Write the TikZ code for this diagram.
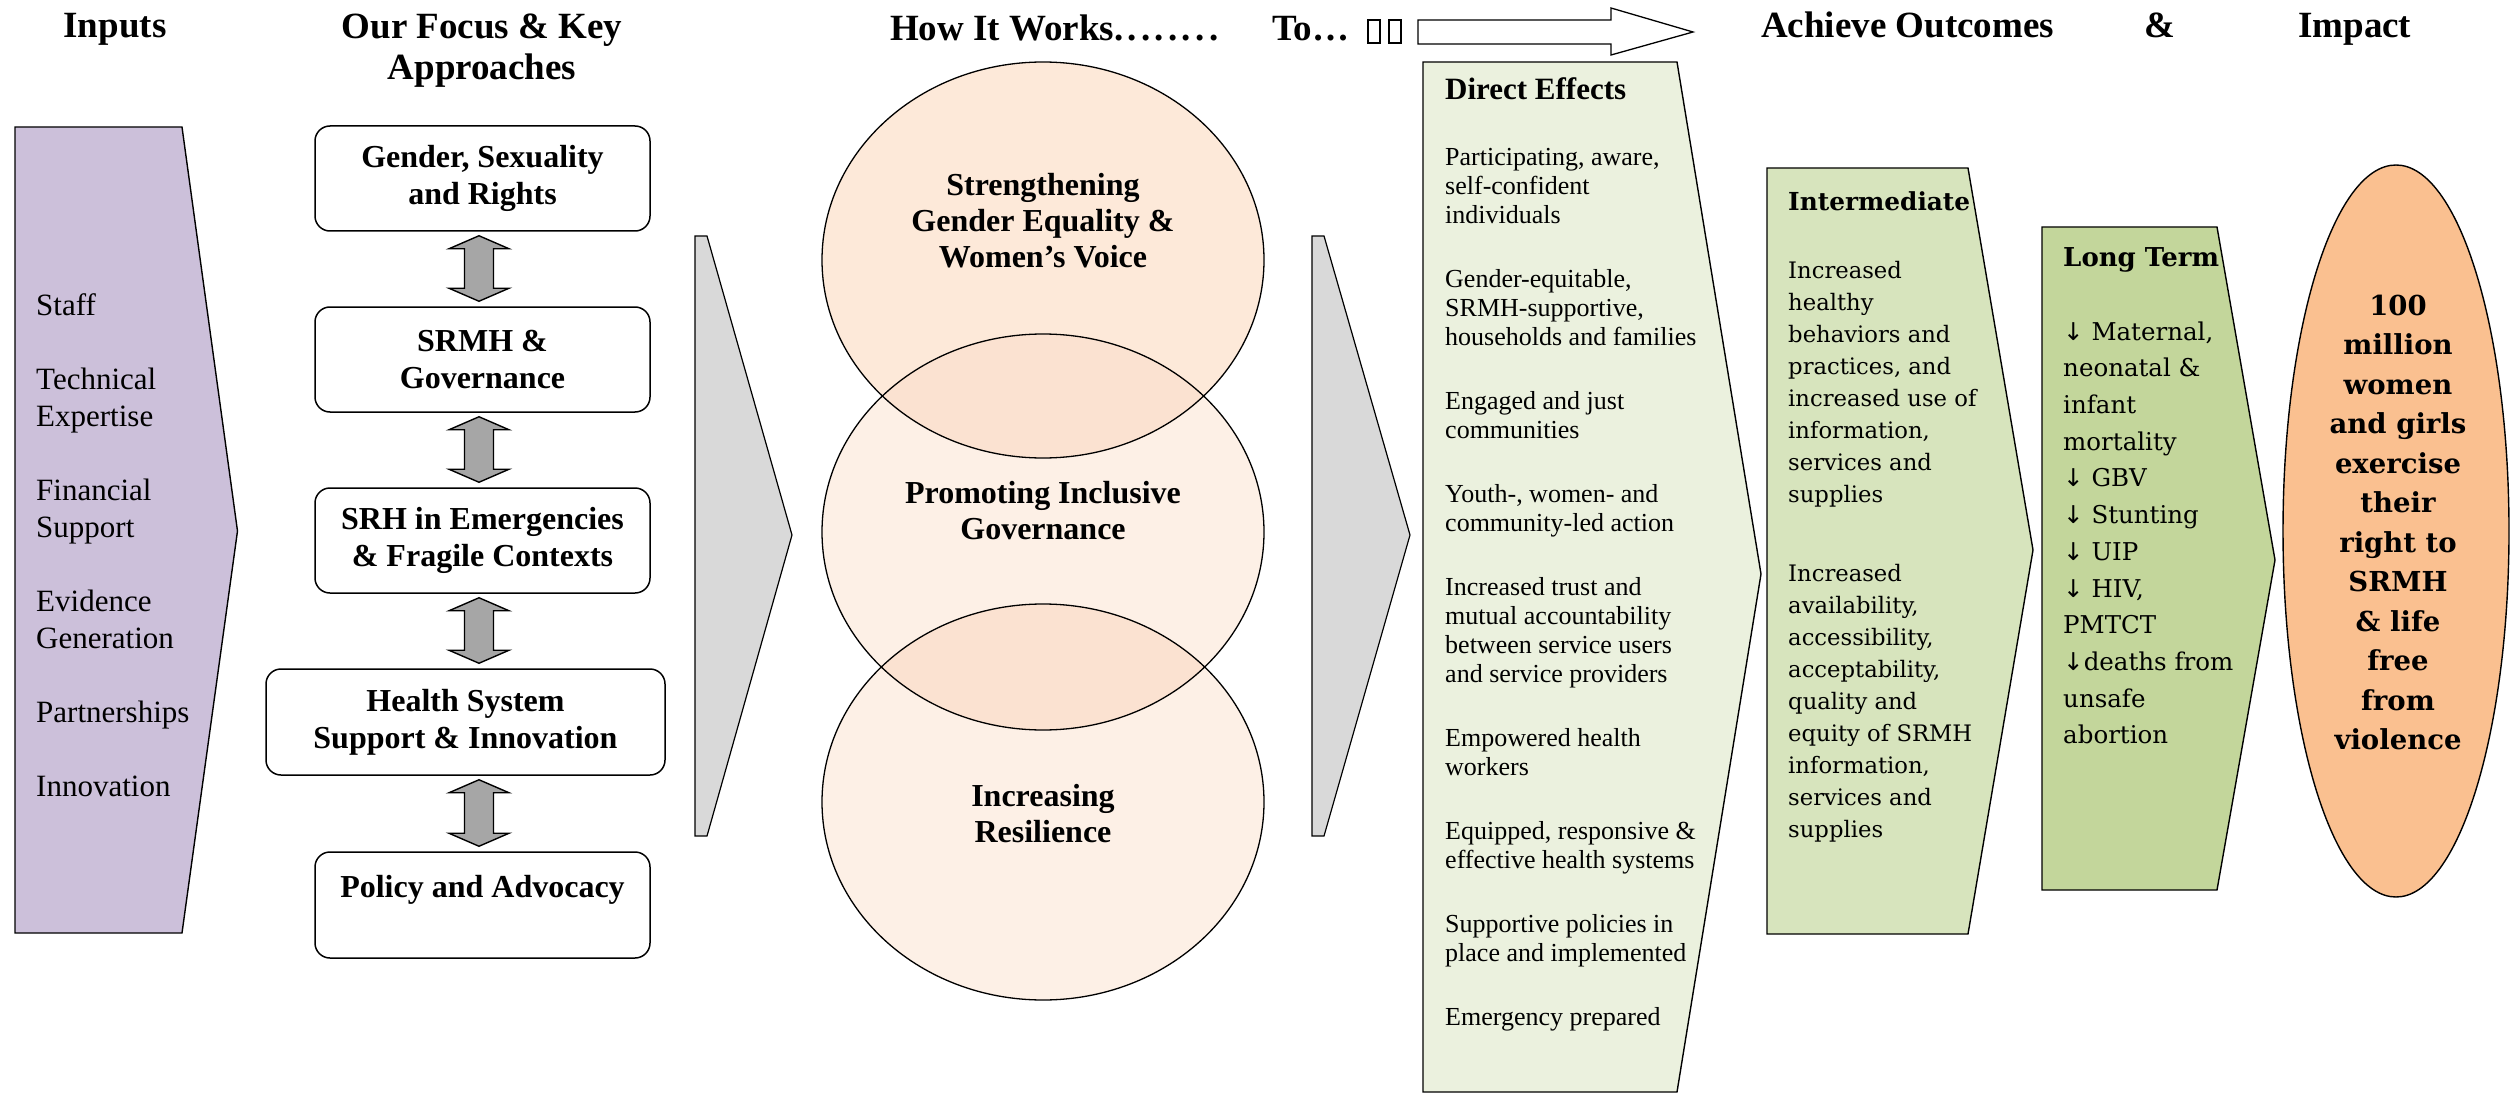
\documentclass[tikz,border=0pt]{standalone}
\usepackage{fontspec}
\setmainfont{Liberation Serif}
\newfontfamily\schfont{DejaVu Serif}
\newfontfamily\symfont{DejaVu Sans}
\usepackage{tikz}
\usetikzlibrary{calc}

\definecolor{inputpurple}{HTML}{CCC0DA}
\definecolor{chevgray}{HTML}{D9D9D9}
\definecolor{arrowgray}{HTML}{A6A6A6}
\definecolor{peachtop}{HTML}{FDE9D9}
\definecolor{peachmid}{HTML}{FDF0E6}
\definecolor{peachmix}{HTML}{FBE2D1}
\definecolor{greendirect}{HTML}{EBF1DE}
\definecolor{greeninter}{HTML}{D7E4BD}
\definecolor{greenlong}{HTML}{C3D69B}
\definecolor{impactorange}{HTML}{FAC090}

\newcommand{\dn}{{\symfont\char"2193}}
\newcommand{\dotrow}{.\kern4.3pt.\kern4.3pt.\kern4.3pt.\kern4.3pt.\kern4.3pt.\kern4.3pt.\kern4.3pt.}

% block arrow with two heads between box #1 and box #2, centred on x = #3
\newcommand{\updown}[3]{%
  \draw[dblarrow] let \p1=(#1.south), \p2=(#2.north) in
    ({#3pt},\y1-4pt) -- ({#3pt+30pt},\y1-17pt) -- ({#3pt+14.5pt},\y1-17pt)
    -- ({#3pt+14.5pt},\y2+18pt) -- ({#3pt+30pt},\y2+18pt) -- ({#3pt},\y2+5pt)
    -- ({#3pt-30pt},\y2+18pt) -- ({#3pt-14.5pt},\y2+18pt)
    -- ({#3pt-14.5pt},\y1-17pt) -- ({#3pt-30pt},\y1-17pt) -- cycle;}

\begin{document}
\begin{tikzpicture}[x=1pt,y=-1pt,
  panel/.style={draw=black,line width=1.4pt},
  dblarrow/.style={draw=black,fill=arrowgray,line width=1.4pt},
  keybox/.style={draw=black,rounded corners=15,line width=1.5pt,fill=white,
    align=center,inner sep=0pt,minimum width=335,minimum height=105,
    font=\bfseries\fontsize{32}{37}\selectfont},
  headtext/.style={inner sep=0pt,font=\bfseries\fontsize{37}{41}\selectfont},
  venntext/.style={inner sep=0pt,anchor=north,align=center,
    font=\bfseries\fontsize{32}{36}\selectfont},
  listtext/.style={inner sep=0pt,anchor=north west,align=left}]
\useasboundingbox (0,0) rectangle (2511,1094);

% headings
\node[headtext,anchor=base] (hinputs) at (115,38) {Inputs};
\node[headtext,anchor=north,align=center] (hfocus) at (482,9.3) {\strut Our Focus \& Key\\Approaches};
\node[headtext,anchor=base west] (hworks) at (890,41) {How It Works\dotrow};
\node[headtext,anchor=base west] (hto) at (1272,41) {To…};
\draw[line width=1.5pt] (1368,20) rectangle (1380,43);
\draw[line width=1.5pt] (1389,20) rectangle (1401,43);
\filldraw[fill=white,line width=1.3pt] (1418,20) -- (1611,20) -- (1611,8) -- (1693,32)
  -- (1611,55) -- (1611,44) -- (1418,44) -- cycle;
\node[headtext,anchor=base west] (hachieve) at (1761,38) {Achieve Outcomes};
\node[headtext,anchor=base] (hand) at (2160,38) {\&};
\node[headtext,anchor=base west] (himpact) at (2298,38) {Impact};

% inputs
\filldraw[panel,fill=inputpurple] (15,127) -- (182,127) -- (237.5,531) -- (182,933) -- (15,933) -- cycle;
\node[listtext,font=\fontsize{31}{37}\selectfont] (inputlist) at (36,289.1) {\strut Staff\\[37pt]
  Technical\\Expertise\\[37pt]
  Financial\\Support\\[37pt]
  Evidence\\Generation\\[37pt]
  Partnerships\\[37pt]
  Innovation};

% focus and key approaches
\node[keybox] (gsr) at (482.5,178.5) {Gender, Sexuality\\and Rights};
\node[keybox] (srmh) at (482.5,359.5) {SRMH \&\\Governance};
\node[keybox] (srh) at (482.5,540.5) {SRH in Emergencies\\\& Fragile Contexts};
\node[keybox,minimum width=399,minimum height=106] (hss) at (465.5,722) {Health System\\Support \& Innovation};
\node[keybox,minimum height=106] (policy) at (482.5,905) {Policy and Advocacy\\\mbox{}};
\updown{gsr}{srmh}{479}
\updown{srmh}{srh}{479}
\updown{srh}{hss}{479}
\updown{hss}{policy}{479}

% chevrons
\filldraw[panel,fill=chevgray,line width=1.2pt] (695,236) -- (707,236) -- (792,535) -- (707,836) -- (695,836) -- cycle;
\filldraw[panel,fill=chevgray,line width=1.2pt] (1312,236) -- (1324,236) -- (1410,535) -- (1324,836) -- (1312,836) -- cycle;

% how it works
\fill[peachmid] (1043,532) ellipse [x radius=221,y radius=198];
\fill[peachmid] (1043,802) ellipse [x radius=221,y radius=198];
\fill[peachtop] (1043,260) ellipse [x radius=221,y radius=198];
\begin{scope}
  \clip (1043,260) ellipse [x radius=221,y radius=198];
  \fill[peachmix] (1043,532) ellipse [x radius=221,y radius=198];
\end{scope}
\begin{scope}
  \clip (1043,802) ellipse [x radius=221,y radius=198];
  \fill[peachmix] (1043,532) ellipse [x radius=221,y radius=198];
\end{scope}
\draw[line width=1.3pt] (1043,260) ellipse [x radius=221,y radius=198];
\draw[line width=1.3pt] (1043,532) ellipse [x radius=221,y radius=198];
\draw[line width=1.3pt] (1043,802) ellipse [x radius=221,y radius=198];
\node[venntext] (voice) at (1043,169.8) {\strut Strengthening\\Gender Equality \&\\Women’s Voice};
\node[venntext] (govern) at (1043,477.8) {\strut Promoting Inclusive\\Governance};
\node[venntext] (resil) at (1043,780.8) {\strut Increasing\\Resilience};

% direct effects
\filldraw[panel,fill=greendirect] (1423,62) -- (1677,62) -- (1761,574) -- (1677,1092) -- (1423,1092) -- cycle;
\node[inner sep=0pt,anchor=base west,font=\bfseries\fontsize{31}{36}\selectfont] (directhead) at (1445,100) {Direct Effects};
\node[listtext,font=\fontsize{26}{29}\selectfont] (directlist) at (1445,144.7) {\strut Participating, aware,\\self-confident\\individuals\\[35pt]
  Gender-equitable,\\SRMH-supportive,\\households and families\\[35pt]
  Engaged and just\\communities\\[35pt]
  Youth-, women- and\\community-led action\\[35pt]
  Increased trust and\\mutual accountability\\between service users\\and service providers\\[35pt]
  Empowered health\\workers\\[35pt]
  Equipped, responsive \&\\effective health systems\\[35pt]
  Supportive policies in\\place and implemented\\[35pt]
  Emergency prepared};

% intermediate
\filldraw[panel,fill=greeninter] (1767,168) -- (1968,168) -- (2033,550) -- (1968,934) -- (1767,934) -- cycle;
\node[inner sep=0pt,anchor=base west,font=\schfont\bfseries\fontsize{24.8}{30}\selectfont] (interhead) at (1788,211) {Intermediate};
\node[listtext,font=\schfont\fontsize{22.7}{32}\selectfont] (interlist) at (1788,255.6) {\strut Increased\\healthy\\behaviors and\\practices, and\\increased use of\\information,\\services and\\supplies\\[47pt]
  Increased\\availability,\\accessibility,\\acceptability,\\quality and\\equity of SRMH\\information,\\services and\\supplies};

% long term
\filldraw[panel,fill=greenlong] (2042,227) -- (2217,227) -- (2275,560) -- (2217,890) -- (2042,890) -- cycle;
\node[inner sep=0pt,anchor=base west,font=\schfont\bfseries\fontsize{26}{32}\selectfont] (longhead) at (2063,266.5) {Long Term};
\node[listtext,font=\schfont\fontsize{24.5}{36.7}\selectfont] (longlist) at (2063,314.3) {\strut\dn{} Maternal,\\neonatal \&\\infant\\mortality\\\dn{} GBV\\\dn{} Stunting\\\dn{} UIP\\\dn{} HIV,\\PMTCT\\\dn{}deaths from\\unsafe\\abortion};

% impact
\filldraw[panel,fill=impactorange] (2396,531) ellipse [x radius=113,y radius=366];
\node[inner sep=0pt,anchor=north,align=center,font=\schfont\bfseries\fontsize{27.5}{39.5}\selectfont] (impact) at (2398,287.4) {\strut 100\\million\\women\\and girls\\exercise\\their\\right to\\SRMH\\\& life\\free\\from\\violence};
\end{tikzpicture}
\end{document}
